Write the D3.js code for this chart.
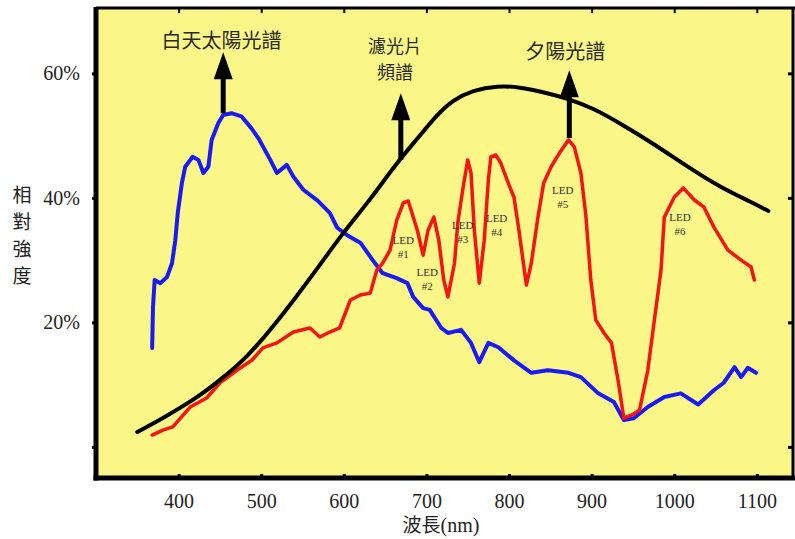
<!DOCTYPE html>
<html>
<head>
<meta charset="utf-8">
<script src="https://cdn.jsdelivr.net/npm/d3@7"></script>
<style>
  html, body { margin: 0; padding: 0; background: #ffffff; }
  svg { display: block; }
  .serif { font-family: "Liberation Serif", "DejaVu Serif", serif; }
  .cjk { font-family: "Noto Sans CJK TC", "Noto Sans CJK SC", sans-serif; }
</style>
</head>
<body>
<svg id="chart" width="795" height="539"></svg>
<script>
// ---------- data ----------
const wavelengthTicks = [400, 500, 600, 700, 800, 900, 1000, 1100];
const percentTicks = [0, 20, 40, 60];
const percentLabels = ["", "20%", "40%", "60%"];

// filter spectrum (black)
const filterWl  = [350, 381, 422, 450, 483, 514, 543, 571, 599, 632, 664, 689, 713, 732, 756, 786, 813, 841, 870, 902, 934, 974, 1016, 1055, 1095, 1114];
const filterVal = [2.4, 4.6, 7.85, 10.7, 14.4, 19.25, 24.2, 29.2, 34.4, 39.7, 45.6, 49.5, 53.4, 55.7, 57.3, 58.0, 57.8, 57.0, 56.0, 54.4, 52.0, 48.8, 45.0, 41.75, 39.2, 37.9];

// daytime sunlight spectrum (blue)
const dayWl  = [368, 369, 371, 378, 386, 392, 396, 399, 404, 408, 417, 424, 430, 436, 440, 448, 454, 464, 476, 488, 497, 511, 519, 531, 539, 551, 568, 583, 592, 604, 620, 635, 647, 664, 677, 684, 696, 704, 718, 726, 742, 754, 764, 775, 787, 806, 827, 847, 872, 887, 908, 927, 939, 951, 968, 988, 1008, 1029, 1048, 1060, 1073, 1081, 1089, 1099];
const dayVal = [15.9, 22.5, 26.8, 26.3, 27.3, 29.5, 33.2, 37.6, 42.4, 45.0, 46.6, 46.1, 44.0, 45.0, 49.3, 52.0, 53.3, 53.6, 53.1, 51.2, 49.5, 46.1, 44.0, 45.3, 43.4, 41.3, 39.6, 37.6, 35.2, 34.0, 32.8, 30.0, 27.9, 27.1, 26.3, 24.1, 22.3, 22.0, 19.1, 18.3, 18.8, 16.7, 13.6, 16.7, 16.0, 13.9, 11.9, 12.3, 11.9, 11.2, 8.6, 7.2, 4.3, 4.6, 6.4, 8.0, 8.6, 6.8, 9.1, 10.3, 12.8, 11.2, 12.7, 11.9];

// sunset spectrum (red)
const sunsetWl  = [368, 381, 393, 414, 434, 450, 471, 489, 502, 519, 539, 559, 571, 583, 595, 608, 620, 632, 640, 647, 656, 664, 672, 678, 689, 696, 702, 709, 715, 721, 726, 734, 738, 744, 750, 754, 758, 764, 770, 775, 778, 784, 790, 799, 806, 812, 821, 827, 835, 842, 851, 861, 872, 879, 887, 893, 899, 905, 915, 924, 932, 939, 948, 958, 968, 976, 984, 988, 1000, 1011, 1024, 1036, 1048, 1065, 1081, 1093, 1097];
const sunsetVal = [1.9, 2.7, 3.2, 6.4, 7.85, 10.3, 12.35, 13.95, 15.9, 16.7, 18.45, 19.1, 17.65, 18.45, 19.1, 23.6, 24.4, 24.7, 28.4, 29.5, 31.6, 36.4, 39.2, 39.5, 34.8, 30.8, 34.8, 36.9, 33.2, 26.8, 24.1, 29.5, 36.0, 41.3, 46.1, 44.0, 34.8, 26.3, 33.2, 42.9, 46.6, 46.9, 45.6, 42.4, 40.1, 34.8, 26.0, 29.5, 36.9, 42.4, 45.0, 47.2, 49.3, 48.2, 44.0, 37.2, 26.8, 20.4, 18.3, 16.7, 10.7, 4.6, 5.1, 5.9, 12.3, 20.4, 28.4, 36.9, 40.1, 41.6, 39.7, 38.5, 35.3, 31.6, 30.0, 28.9, 26.8];

// annotations
const arrowWl   = [454, 669, 873];
const arrowFrom = [53.6, 46.1, 49.6];
const arrowTo   = [63.4, 56.8, 60.5];

const calloutLines = [["白天太陽光譜"], ["濾光片", "頻譜"], ["夕陽光譜"]];
const calloutWl    = [452, 662, 868];
const calloutVal   = [65.2, 64.3, 63.4];
const calloutSize  = [20, 18, 20];

const ledTop   = ["LED", "LED", "LED", "LED", "LED", "LED"];
const ledNum   = ["#1", "#2", "#3", "#4", "#5", "#6"];
const ledWl    = [672, 701, 744, 785, 865, 1007];
const ledVal   = [33.2, 28.1, 35.6, 36.8, 41.3, 36.9];

const xTitle = "波長(nm)";
const yTitleChars = ["相", "對", "強", "度"];

// ---------- layout ----------
const svg = d3.select("#chart");
const pL = 96, pR = 793, pT = 8, pB = 478;
const x = d3.scaleLinear().domain([300, 1145]).range([pL, pR + 1]);
const y = d3.scaleLinear().domain([-5, 70.5]).range([pB, pT]);

// plot background
svg.append("rect").attr("x", pL).attr("y", pT)
  .attr("width", pR - pL).attr("height", pB - pT)
  .attr("fill", "#FAF687");

// left axis
const yAxis = d3.axisLeft(y).tickValues(percentTicks).tickSize(4).tickPadding(12)
  .tickFormat((d, i) => percentLabels[i]);
const gy = svg.append("g").attr("transform", `translate(${pL},0)`).call(yAxis);
gy.select(".domain").remove();
gy.selectAll("line").attr("stroke", "#000").attr("stroke-width", 3);
gy.selectAll("text").attr("class", "serif").style("font-size", "20px").attr("fill", "#222");

// right axis ticks (inward)
const gr = svg.append("g").attr("transform", `translate(${pR},0)`)
  .call(d3.axisLeft(y).tickValues(percentTicks).tickSize(5).tickFormat(""));
gr.select(".domain").remove();
gr.selectAll("line").attr("stroke", "#000").attr("stroke-width", 3);

// bottom axis
const xAxis = d3.axisBottom(x).tickValues(wavelengthTicks).tickSizeInner(-4).tickSizeOuter(0)
  .tickPadding(16).tickFormat(d3.format("d"));
const gx = svg.append("g").attr("transform", `translate(0,${pB})`).call(xAxis);
gx.select(".domain").remove();
gx.selectAll("line").attr("stroke", "#000").attr("stroke-width", 3);
gx.selectAll("text").attr("class", "serif").style("font-size", "20px").attr("fill", "#222");

// top axis ticks (inward)
const gt = svg.append("g").attr("transform", `translate(0,${pT})`)
  .call(d3.axisTop(x).tickValues(wavelengthTicks).tickSizeInner(-5).tickSizeOuter(0).tickFormat(""));
gt.select(".domain").remove();
gt.selectAll("line").attr("stroke", "#000").attr("stroke-width", 2);

// frame
svg.append("line").attr("x1", pL).attr("x2", pL).attr("y1", pT - 1).attr("y2", pB + 2.5)
  .attr("stroke", "#000").attr("stroke-width", 5);
svg.append("line").attr("x1", pL - 2.5).attr("x2", pR + 2).attr("y1", pB).attr("y2", pB)
  .attr("stroke", "#000").attr("stroke-width", 5);
svg.append("line").attr("x1", pL).attr("x2", pR + 2).attr("y1", pT).attr("y2", pT)
  .attr("stroke", "#000").attr("stroke-width", 3);
svg.append("line").attr("x1", pR).attr("x2", pR).attr("y1", pT).attr("y2", pB)
  .attr("stroke", "#000").attr("stroke-width", 3);

// curves
function drawSeries(wl, val, color, width, curve) {
  const data = wl.map((w, i) => [w, val[i]]);
  svg.append("path").datum(data)
    .attr("fill", "none").attr("stroke", color).attr("stroke-width", width)
    .attr("stroke-linejoin", "round").attr("stroke-linecap", "round")
    .attr("d", d3.line().x(d => x(d[0])).y(d => y(d[1])).curve(curve));
}
drawSeries(dayWl, dayVal, "#1a1af2", 4, d3.curveLinear);
drawSeries(sunsetWl, sunsetVal, "#f41414", 3.5, d3.curveLinear);
drawSeries(filterWl, filterVal, "#000000", 4, d3.curveBasis);

// arrows
arrowWl.forEach((w, i) => {
  const ax = x(w), y0 = y(arrowFrom[i]), y1 = y(arrowTo[i]);
  const headH = 27, headW = 19;
  svg.append("line").attr("x1", ax).attr("x2", ax).attr("y1", y0).attr("y2", y1 + headH - 2)
    .attr("stroke", "#000").attr("stroke-width", 5);
  svg.append("path")
    .attr("d", `M${ax},${y1} L${ax - headW / 2},${y1 + headH} L${ax + headW / 2},${y1 + headH} Z`)
    .attr("fill", "#000");
});

// callout text
calloutLines.forEach((lines, i) => {
  lines.forEach((ln, j) => {
    svg.append("text").attr("class", "cjk")
      .attr("text-anchor", "middle")
      .style("font-size", calloutSize[i] + "px").attr("fill", "#2a2a2a")
      .attr("x", x(calloutWl[i])).attr("y", y(calloutVal[i]) + j * 26)
      .attr("dy", "0.35em").text(ln);
  });
});

// LED labels
ledTop.forEach((t, i) => {
  const g = svg.append("text").attr("class", "serif")
    .attr("text-anchor", "middle").style("font-size", "11px").attr("fill", "#333");
  g.append("tspan").attr("x", x(ledWl[i])).attr("y", y(ledVal[i])).attr("dy", "0.35em").text(t);
  g.append("tspan").attr("x", x(ledWl[i])).attr("y", y(ledVal[i]) + 14).attr("dy", "0.35em").text(ledNum[i]);
});

// axis titles
const xt = svg.append("text").attr("x", 441).attr("y", 532).attr("text-anchor", "middle")
  .style("font-size", "19px").attr("fill", "#222");
xt.append("tspan").attr("class", "cjk").text(xTitle.slice(0, 2));
xt.append("tspan").attr("class", "serif").style("font-size", "20px").text(xTitle.slice(2));

yTitleChars.forEach((c, i) => {
  svg.append("text").attr("class", "cjk").attr("x", 22).attr("y", 195 + i * 27)
    .attr("text-anchor", "middle").attr("dy", "0.35em")
    .style("font-size", "19px").attr("fill", "#222").text(c);
});
</script>
</body>
</html>
